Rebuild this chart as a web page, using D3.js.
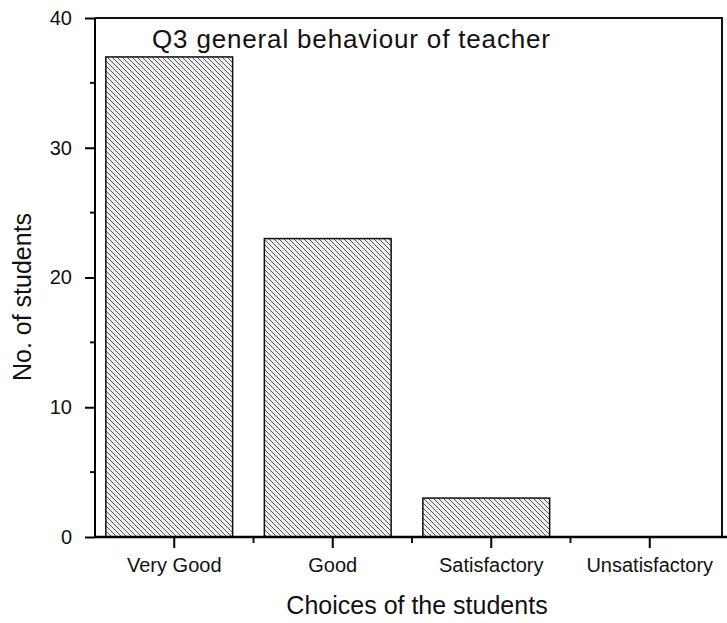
<!DOCTYPE html>
<html>
<head>
<meta charset="utf-8">
<script src="https://cdn.jsdelivr.net/npm/d3@7"></script>
<style>
  body { margin: 0; background: #fff; }
  text { font-family: "Liberation Sans", Arial, sans-serif; fill: #111; }
</style>
</head>
<body>
<div id="chart"></div>
<script>
// data
const categories = ["Very Good", "Good", "Satisfactory", "Unsatisfactory"];
const counts = [37, 23, 3, 0];
const yTicks = [0, 10, 20, 30, 40];
const yMinor = [5, 15, 25, 35];

const width = 727;
const height = 623;
const margin = {top: 18, bottom: 86, left: 95, right: 0};

const data = categories.map((c, i) => ({choice: c, count: counts[i]}));

const svg = d3.select('#chart')
  .append('svg')
  .attr('width', width)
  .attr('height', height);

// hatch fill like the original print
const defs = svg.append('defs');
defs.append('pattern')
  .attr('id', 'hatch')
  .attr('patternUnits', 'userSpaceOnUse')
  .attr('width', 5)
  .attr('height', 5)
  .call(p => {
    p.append('rect').attr('width', 5).attr('height', 5).attr('fill', '#efefef');
    p.append('path')
      .attr('d', 'M0,0 L5,5 M-1,4 L1,6 M4,-1 L6,1')
      .attr('stroke', '#555')
      .attr('stroke-width', 1);
  });

const xscale = d3.scaleBand()
  .domain(categories)
  .range([margin.left, 729])
  .paddingInner(0.2)
  .paddingOuter(0.1);

const yscale = d3.scaleLinear()
  .domain([0, 40])
  .range([height - margin.bottom, margin.top]);

// bars
svg.selectAll('rect.bar')
  .data(data)
  .join('rect')
  .attr('class', 'bar')
  .attr('x', d => xscale(d.choice) - 5)
  .attr('y', d => yscale(d.count))
  .attr('width', xscale.bandwidth())
  .attr('height', d => yscale(0) - yscale(d.count))
  .attr('fill', 'url(#hatch)')
  .attr('stroke', '#111')
  .attr('stroke-width', 1.5);

// frame (top + right)
svg.append('path')
  .attr('d', `M${margin.left},${yscale(40)} H722 V${yscale(0)}`)
  .attr('fill', 'none')
  .attr('stroke', '#111')
  .attr('stroke-width', 2);

// y axis
const yaxis = d3.axisLeft(yscale).tickValues(yTicks).tickSize(10).tickPadding(13);
const gy = svg.append('g')
  .attr('transform', `translate(${margin.left},0)`)
  .call(yaxis);
gy.selectAll('.tick text').attr('font-size', 20).attr('fill', '#111');
gy.selectAll('.tick line').attr('stroke-width', 2);
gy.select('.domain').attr('stroke-width', 2).attr('d', `M0,${yscale(40)}V${yscale(0)}`);
svg.append('g')
  .selectAll('line')
  .data(yMinor)
  .join('line')
  .attr('x1', margin.left - 5)
  .attr('x2', margin.left)
  .attr('y1', d => yscale(d))
  .attr('y2', d => yscale(d))
  .attr('stroke', '#111')
  .attr('stroke-width', 2);

// x axis
const xaxis = d3.axisBottom(xscale).tickSize(11).tickPadding(10);
const gx = svg.append('g')
  .attr('transform', `translate(0,${yscale(0)})`)
  .call(xaxis);
gx.selectAll('.tick text').attr('font-size', 20).attr('fill', '#111');
gx.selectAll('.tick line').attr('stroke-width', 2);
gx.select('.domain').attr('stroke-width', 2.5).attr('d', `M${margin.left},0H${width}`);
// minor ticks between categories
const step = xscale.step();
svg.append('g')
  .selectAll('line')
  .data(categories.slice(1))
  .join('line')
  .attr('x1', d => xscale(d) - step * xscale.paddingInner() / 2)
  .attr('x2', d => xscale(d) - step * xscale.paddingInner() / 2)
  .attr('y1', yscale(0))
  .attr('y2', yscale(0) + 6)
  .attr('stroke', '#111')
  .attr('stroke-width', 2);

// titles
svg.append('text')
  .attr('x', 152)
  .attr('y', 48)
  .attr('font-size', 26)
  .attr('textLength', 398)
  .text('Q3 general behaviour of teacher');

svg.append('text')
  .attr('x', 417)
  .attr('y', 614)
  .attr('text-anchor', 'middle')
  .attr('font-size', 25)
  .text('Choices of the students');

svg.append('text')
  .attr('transform', 'translate(31,297) rotate(-90)')
  .attr('text-anchor', 'middle')
  .attr('font-size', 25)
  .text('No. of students');
</script>
</body>
</html>
